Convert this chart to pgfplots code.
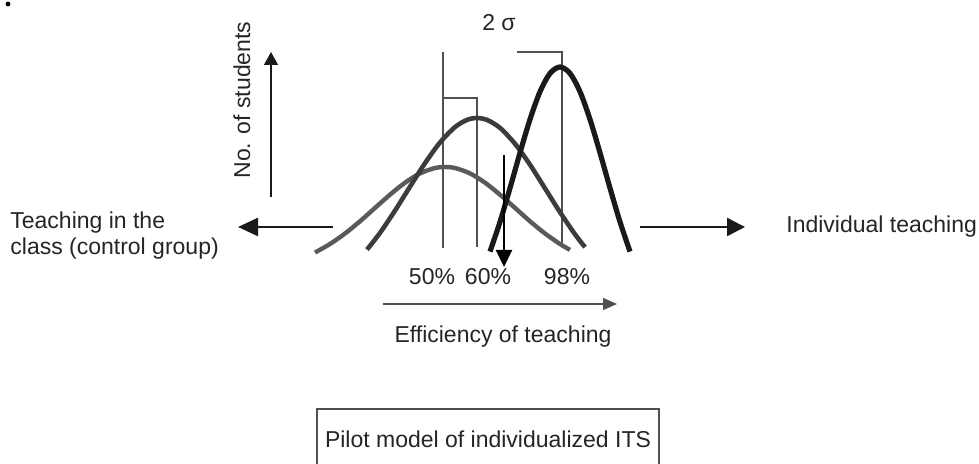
\documentclass[border=0pt]{standalone}
\usepackage{fontspec}
\setmainfont{Liberation Sans}
\usepackage{pgfplots}
\pgfplotsset{compat=1.18}
\usetikzlibrary{arrows.meta}
\definecolor{txtc}{HTML}{252525}
\definecolor{cA}{HTML}{5A5A5A}
\definecolor{cB}{HTML}{3C3C3C}
\definecolor{cC}{HTML}{1A1A1A}
\definecolor{thinc}{HTML}{505050}
\tikzset{txt/.style={inner sep=0pt,font=\fontsize{11.5}{13}\selectfont,text=txtc}}
\begin{document}
\begin{tikzpicture}
\begin{axis}[width=489.5pt,height=232pt,scale only axis,
  xmin=0,xmax=979,ymin=0,ymax=464,hide axis,clip=false]
% reference lines and brackets
\addplot[thinc,line width=0.6pt] coordinates {(443,216) (443,412)};
\addplot[thinc,line width=0.6pt] coordinates {(443,366) (477,366) (477,217)};
\addplot[thinc,line width=0.6pt] coordinates {(517,412) (562,412) (562,217)};
% curve A (control group, widest)
\addplot[cA,line width=2.2pt,smooth] coordinates {
(315,211.5) (330,220) (345,230.5) (360,242.7) (375,256.1) (390,269.3) (405,281.3) (420,290.6) (435,296) (445,297) (455,296) (470,290.6) (485,281.3) (500,269.3) (515,256.1) (530,242.7) (545,230.5) (560,220) (570,214.1)};
% curve B
\addplot[cB,line width=2.3pt,smooth] coordinates {
(367,214.4) (380,231.1) (395,253.4) (410,277.3) (425,300.8) (440,321.5) (455,336.9) (467,344.1) (477,346) (487,344.1) (500,336.1) (515,320.2) (530,299.3) (545,275.6) (560,251.8) (575,229.7) (585,216.8)};
% curve C (individual teaching)
\addplot[cC,line width=2.6pt,smooth] coordinates {
(490,212.4) (500,242.1) (510,275.9) (520,311.2) (530,344.6) (540,372.3) (550,390.6) (560,397) (570,390.6) (580,372.3) (590,344.6) (600,311.2) (610,275.9) (620,242.1) (630,212.4)};
% arrows
\addplot[black,line width=1pt,-{Triangle[length=8.5pt,width=8pt]}] coordinates {(504,309) (504,197)};
\addplot[cC,line width=0.7pt,-{Triangle[length=6.5pt,width=7pt]}] coordinates {(271,267) (271,412)};
\addplot[cC,line width=1.2pt,-{Triangle[length=10pt,width=9pt]}] coordinates {(333,237) (238,237)};
\addplot[cC,line width=1.2pt,-{Triangle[length=9pt,width=9pt]}] coordinates {(640,237) (745,237)};
\addplot[thinc,line width=0.6pt,-{Triangle[length=7pt,width=6pt]}] coordinates {(383,160) (617,160)};
% box
\addplot[thinc,line width=0.6pt] coordinates {(317,0) (317,55) (659,55) (659,0)};
% dot
\addplot[only marks,mark=*,mark size=1pt,black] coordinates {(8,460)};
% texts
\node[txt,anchor=base] at (axis cs:499,433) {2 σ};
\node[txt,anchor=base,rotate=90] at (axis cs:250,364) {No. of students};
\node[txt,anchor=base west] at (axis cs:10,235) {Teaching in the};
\node[txt,anchor=base west] at (axis cs:10,209) {class (control group)};
\node[txt,anchor=base west] at (axis cs:786,231) {Individual teaching};
\node[txt,anchor=base] at (axis cs:432,179) {50\%};
\node[txt,anchor=base] at (axis cs:488,179) {60\%};
\node[txt,anchor=base] at (axis cs:567,179) {98\%};
\node[txt,anchor=base] at (axis cs:503,121) {Efficiency of teaching};
\node[txt,anchor=base] at (axis cs:488,16) {Pilot model of individualized ITS};
\coordinate (SW) at (axis cs:0,0);
\coordinate (NE) at (axis cs:979,464);
\end{axis}
\pgfresetboundingbox
\path (SW) rectangle (NE);
\end{tikzpicture}
\end{document}
